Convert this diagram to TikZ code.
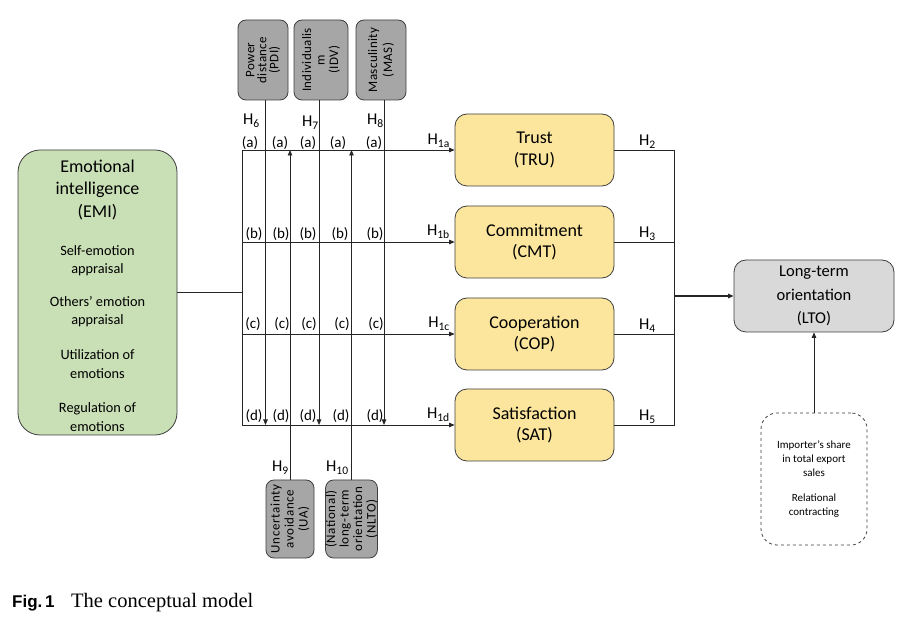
\documentclass[tikz,border=0pt]{standalone}
\usepackage{fontspec}
\setmainfont{Carlito}
\newfontfamily\capsans{Liberation Sans}
\newfontfamily\capserif{Liberation Serif}
\usetikzlibrary{arrows.meta}
\definecolor{emigreen}{HTML}{C9DFB5}
\definecolor{boxyellow}{HTML}{FCE69E}
\definecolor{modgray}{HTML}{A6A6A6}
\definecolor{ltogray}{HTML}{D9D9D9}
\definecolor{edgecol}{HTML}{262626}
\definecolor{bordercol}{HTML}{3F3F3F}
\newcommand{\fsz}[2]{\fontsize{#1}{#2}\selectfont}
\tikzset{
  basebox/.style={draw=bordercol, line width=0.8pt, align=center, inner sep=0pt},
  emibox/.style={basebox, fill=emigreen, rounded corners=22pt, minimum width=159pt, minimum height=285pt},
  medbox/.style={basebox, fill=boxyellow, rounded corners=12pt, minimum width=159pt, minimum height=72pt, font=\fsz{18}{21.5}},
  ltobx/.style={basebox, fill=ltogray, rounded corners=12pt, minimum width=160pt, minimum height=72pt, font=\fsz{16.5}{23.5}},
  ctrlbox/.style={basebox, dashed, rounded corners=16pt, minimum width=106pt, minimum height=132pt, font=\fsz{11}{14}},
  modbox/.style={basebox, fill=modgray, rounded corners=8pt, rotate=90, minimum width=80pt, font=\fsz{13}{13.5}\addfontfeatures{LetterSpace=3}},
  lbl/.style={inner sep=0pt, font=\fsz{15}{17}},
  hyp/.style={inner sep=0pt, font=\fsz{16.5}{19}},
  emismall/.style={inner sep=0pt, align=center, font=\fsz{14.3}{18.3}},
  conn/.style={draw=edgecol, line width=0.8pt},
  arr/.style={conn, -{Triangle[length=5.5pt,width=4.5pt]}},
}
\begin{document}
\begin{tikzpicture}[x=1pt,y=-1pt]
\useasboundingbox (0,0) rectangle (906,628);

% main boxes
\node[emibox] (emi) at (97.5,292.5) {};
\node[inner sep=0pt, align=center, font=\fsz{18}{22.5}] (emititle) at (97.5,190) {Emotional\\intelligence\\(EMI)};
\node[emismall] (emi1) at (97.5,261) {Self-emotion\\appraisal};
\node[emismall] (emi2) at (97.5,311.5) {Others’ emotion\\appraisal};
\node[emismall] (emi3) at (97.5,364) {Utilization of\\emotions};
\node[emismall] (emi4) at (97.5,417) {Regulation of\\emotions};

\node[medbox] (tru) at (534.5,150) {Trust\\(TRU)};
\node[medbox] (cmt) at (534.5,242) {Commitment\\(CMT)};
\node[medbox] (cop) at (534.5,334) {Cooperation\\(COP)};
\node[medbox] (sat) at (534.5,425) {Satisfaction\\(SAT)};

\node[ltobx] (lto) at (814,296) {Long-term\\orientation\\(LTO)};
\node[ctrlbox] (ctrl) at (814,479) {Importer’s share\\in total export\\sales\\[11pt]Relational\\contracting};

% moderators
\node[modbox, minimum height=50pt, font=\fsz{13}{12}\addfontfeatures{LetterSpace=3}] (pdi) at (263,60) {Power\\distance\\(PDI)};
\node[modbox, minimum height=54pt] (idv) at (321,60) {Individualis\\m\\(IDV)};
\node[modbox, minimum height=50pt, font=\fsz{13}{15}\addfontfeatures{LetterSpace=3}] (mas) at (381,60) {Masculinity\\(MAS)};
\node[modbox, minimum height=48pt, minimum width=78pt, font=\fsz{13}{14}\addfontfeatures{LetterSpace=5}] (ua) at (290,519) {Uncertainty\\avoidance\\(UA)};
\node[modbox, minimum height=51pt, minimum width=78pt, font=\fsz{13}{13.5}\addfontfeatures{LetterSpace=5}] (nlto) at (351.5,519) {(National)\\long-term\\orientation\\(NLTO)};

% coordinates
\coordinate (busM) at (242,292.5);
\coordinate (busA) at (242,150);
\coordinate (busB) at (242,242);
\coordinate (busC) at (242,334);
\coordinate (busD) at (242,425);
\coordinate (pdiEnd) at (265.5,425);
\coordinate (idvEnd) at (319,425);
\coordinate (masEnd) at (384,425);
\coordinate (rj) at (674,296);

% connectors EMI -> mediators
\draw[conn, line width=1.3pt] (emi.east |- busM) -- (busM);
\draw[conn] (busA) -- (busD);
\draw[arr] (busA) -- (tru.west);
\draw[arr] (busB) -- (cmt.west);
\draw[arr] (busC) -- (cop.west);
\draw[arr] (busD) -- (sat.west);

% moderator lines
\draw[arr] (pdi.west -| pdiEnd) -- (pdiEnd);
\draw[arr] (idv.west -| idvEnd) -- (idvEnd);
\draw[arr] (mas.west -| masEnd) -- (masEnd);
\draw[arr] (ua.east) -- (ua.east |- busA);
\draw[arr] (nlto.east) -- (nlto.east |- busA);

% mediators -> LTO
\draw[conn] (tru.east) -- (tru.east -| rj) -- (sat.east -| rj) -- (sat.east);
\draw[conn] (cmt.east) -- (cmt.east -| rj);
\draw[conn] (cop.east) -- (cop.east -| rj);
\draw[arr, line width=1.3pt] (rj) -- (lto.west);
\draw[arr] (ctrl.north) -- (lto.south);

% row labels
\foreach \x/\n in {250/1,280/2,308/3,338/4,374/5} \node[lbl] (la\n) at (\x,143) {(a)};
\foreach \x/\n in {254/1,281/2,308/3,340/4,375/5} \node[lbl] (lb\n) at (\x,234) {(b)};
\foreach \x/\n in {253/1,282/2,309/3,342/4,376/5} \node[lbl] (lc\n) at (\x,324) {(c)};
\foreach \x/\n in {254/1,281/2,308/3,341/4,375/5} \node[lbl] (ld\n) at (\x,416) {(d)};

% hypotheses
\node[hyp, anchor=base west] (h6) at (243,125) {H\textsubscript{6}};
\node[hyp, anchor=base west] (h7) at (302,127) {H\textsubscript{7}};
\node[hyp, anchor=base west] (h8) at (367,125) {H\textsubscript{8}};
\node[hyp, anchor=base west] (h9) at (272,472) {H\textsubscript{9}};
\node[hyp, anchor=base west] (h10) at (326,472) {H\textsubscript{10}};
\node[hyp, anchor=base east] (h1a) at (450,145) {H\textsubscript{1a}};
\node[hyp, anchor=base east] (h1b) at (450,236) {H\textsubscript{1b}};
\node[hyp, anchor=base east] (h1c) at (450,328) {H\textsubscript{1c}};
\node[hyp, anchor=base east] (h1d) at (450,419) {H\textsubscript{1d}};
\node[hyp, anchor=base west] (h2) at (639,146) {H\textsubscript{2}};
\node[hyp, anchor=base west] (h3) at (639,238) {H\textsubscript{3}};
\node[hyp, anchor=base west] (h4) at (639,330) {H\textsubscript{4}};
\node[hyp, anchor=base west] (h5) at (639,421) {H\textsubscript{5}};

% caption
\node[inner sep=0pt, anchor=base west, font=\capsans\bfseries\fsz{17}{20}] (figno) at (12,607) {Fig.\,1};
\node[inner sep=0pt, anchor=base west, font=\capserif\fsz{20.5}{24}] (figcap) at (71,607) {The conceptual model};
\end{tikzpicture}
\end{document}
